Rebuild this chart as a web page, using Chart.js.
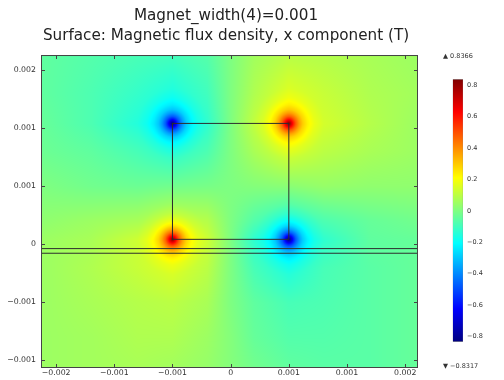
<!DOCTYPE html>
<html lang="en">
<head>
  <meta charset="UTF-8" />
  <title>Magnet_width(4)=0.001</title>
  <script src="https://cdn.jsdelivr.net/npm/chart.js@4"></script>
  <style>
    html, body { margin: 0; padding: 0; background: #fff; }
    #wrap { position: relative; width: 504px; height: 380px; overflow: hidden; }
    #field { position: absolute; left: 0; top: 0; }
    #legend { position: absolute; left: 443px; top: 0; }
  </style>
</head>
<body>
  <div id="wrap">
    <canvas id="field" width="452" height="380"></canvas>
    <canvas id="legend" width="61" height="380"></canvas>
  </div>

  <script>
    // axis extents (m)
    const xMin = -0.00163, xMax = 0.00161;
    const yMin = -0.00107, yMax = 0.00163;

    // tick positions and the labels as printed (3 decimals)
    const xTickValues = [-0.0015, -0.001, -0.0005, 0, 0.0005, 0.001, 0.0015];
    const xTickLabels = ['\u22120.002', '\u22120.001', '\u22120.001', '0', '0.001', '0.001', '0.002'];
    const yTickValues = [0.0015, 0.001, 0.0005, 0, -0.0005, -0.001];
    const yTickLabels = ['0.002', '0.001', '0.001', '0', '\u22120.001', '\u22120.001'];

    // colour range of the surface (T)
    const fieldMin = -0.8317, fieldMax = 0.8366;
    const cbTickValues = [-0.8, -0.6, -0.4, -0.2, 0, 0.2, 0.4, 0.6, 0.8];
    const cbTickLabels = ['\u22120.8', '\u22120.6', '\u22120.4', '\u22120.2', '0', '0.2', '0.4', '0.6', '0.8'];

    // Bx on a coarse grid (rows top -> bottom)
    const gridX = [-0.0016, -0.0012, -0.0008, -0.0005, -0.0002, 0, 0.0002, 0.0005, 0.0008, 0.0012, 0.0016];
    const gridY = [0.0016, 0.0013, 0.00104, 0.0008, 0.0005, 0.0002, 0.00004, -0.0002, -0.0005, -0.0008, -0.00105];
    const gridBx = [
      [-0.05, -0.07, -0.09, -0.10, -0.07, 0.00, 0.06, 0.10, 0.09, 0.07, 0.05],
      [-0.05, -0.08, -0.12, -0.16, -0.10, 0.00, 0.08, 0.16, 0.12, 0.08, 0.06],
      [-0.04, -0.08, -0.15, -0.21, -0.13, 0.00, 0.11, 0.21, 0.14, 0.09, 0.05],
      [-0.03, -0.05, -0.09, -0.14, -0.08, 0.00, 0.07, 0.15, 0.10, 0.07, 0.05],
      [ 0.00, -0.02, -0.03, -0.02, -0.01, 0.00, 0.01, 0.02, 0.04, 0.03, 0.03],
      [ 0.03,  0.05,  0.07,  0.12,  0.09, 0.00, -0.07, -0.14, -0.08, -0.04, -0.02],
      [ 0.05,  0.07,  0.13,  0.20,  0.13, 0.00, -0.13, -0.21, -0.13, -0.05, -0.04],
      [ 0.05,  0.08,  0.12,  0.16,  0.10, 0.00, -0.09, -0.16, -0.09, -0.06, -0.04],
      [ 0.05,  0.07,  0.09,  0.10,  0.07, 0.00, -0.05, -0.09, -0.08, -0.06, -0.04],
      [ 0.05,  0.06,  0.08,  0.08,  0.05, 0.01, -0.04, -0.07, -0.07, -0.06, -0.04],
      [ 0.05,  0.06,  0.07,  0.06,  0.04, 0.01, -0.02, -0.05, -0.06, -0.06, -0.04]
    ];

    // sharp peaks at the magnet corners: extra |Bx| against distance (m)
    const cornerX = [-0.0005, 0.0005, -0.0005, 0.0005];
    const cornerY = [0.00104, 0.00104, 0.00004, 0.00004];
    const cornerSign = [-1, 1, 1, -1];
    const peakR = [0, 0.00002, 0.00004, 0.00006, 0.00009, 0.00012, 0.00016, 0.00022, 0.0003];
    const peakBx = [0.63, 0.50, 0.38, 0.28, 0.18, 0.11, 0.06, 0.02, 0];

    // geometry lines: magnet outline and the two rail lines under it
    const magnetX = [-0.0005, 0.0005, 0.0005, -0.0005, -0.0005];
    const magnetY = [0.00004, 0.00004, 0.00104, 0.00104, 0.00004];
    const railY = [-0.00004, -0.00008];

    const titleLines = ['Magnet_width(4)=0.001', 'Surface: Magnetic flux density, x component (T)'];

    Chart.defaults.font.family = "'DejaVu Sans', sans-serif";

    function jet(v) {
      const t = Math.min(1, Math.max(0, (v - fieldMin) / (fieldMax - fieldMin)));
      const c = k => Math.round(255 * Math.min(1, Math.max(0, 1.5 - Math.abs(4 * t - k))));
      return [c(3), c(2), c(1)];
    }

    function locate(nodes, v) {
      const n = nodes.length;
      for (let i = 0; i < n - 1; i++) {
        const a = nodes[i], b = nodes[i + 1];
        if ((v - a) * (v - b) <= 0) return [i, (v - a) / (b - a)];
      }
      return Math.abs(v - nodes[0]) < Math.abs(v - nodes[n - 1]) ? [0, 0] : [n - 2, 1];
    }

    function peakAt(d) {
      for (let i = 0; i < peakR.length - 1; i++) {
        if (d <= peakR[i + 1]) {
          const t = (d - peakR[i]) / (peakR[i + 1] - peakR[i]);
          return peakBx[i] + t * (peakBx[i + 1] - peakBx[i]);
        }
      }
      return 0;
    }

    function bxAt(x, y) {
      const [i, tx] = locate(gridX, x);
      const [j, ty] = locate(gridY, y);
      const top = gridBx[j][i] * (1 - tx) + gridBx[j][i + 1] * tx;
      const bot = gridBx[j + 1][i] * (1 - tx) + gridBx[j + 1][i + 1] * tx;
      let v = top * (1 - ty) + bot * ty;
      for (let k = 0; k < cornerX.length; k++) {
        v += cornerSign[k] * peakAt(Math.hypot(x - cornerX[k], y - cornerY[k]));
      }
      return v;
    }

    // paints the surface into the plot area through the chart scales
    const surfacePlugin = {
      id: 'surface',
      beforeDatasetsDraw(chart) {
        const { ctx, chartArea: a, scales: { x, y } } = chart;
        const w = Math.round(a.right - a.left), h = Math.round(a.bottom - a.top);
        const off = document.createElement('canvas');
        off.width = w; off.height = h;
        const octx = off.getContext('2d');
        const img = octx.createImageData(w, h);
        for (let j = 0; j < h; j++) {
          const yv = y.getValueForPixel(a.top + j + 0.5);
          for (let i = 0; i < w; i++) {
            const xv = x.getValueForPixel(a.left + i + 0.5);
            const [r, g, b] = jet(bxAt(xv, yv));
            const p = (j * w + i) * 4;
            img.data[p] = r; img.data[p + 1] = g; img.data[p + 2] = b; img.data[p + 3] = 255;
          }
        }
        octx.putImageData(img, 0, 0);
        ctx.drawImage(off, a.left, a.top);
      }
    };

    // box round the plot and inward tick marks on all four sides
    const framePlugin = {
      id: 'frame',
      afterDatasetsDraw(chart) {
        const { ctx, chartArea: a, scales: { x, y } } = chart;
        ctx.save();
        ctx.strokeStyle = '#444';
        ctx.lineWidth = 1;
        ctx.strokeRect(a.left + 0.5, a.top + 0.5, a.right - a.left - 1, a.bottom - a.top - 1);
        ctx.beginPath();
        x.ticks.forEach(t => {
          const px = Math.round(x.getPixelForValue(t.value)) + 0.5;
          ctx.moveTo(px, a.bottom); ctx.lineTo(px, a.bottom - 4);
          ctx.moveTo(px, a.top); ctx.lineTo(px, a.top + 4);
        });
        y.ticks.forEach(t => {
          const py = Math.round(y.getPixelForValue(t.value)) + 0.5;
          ctx.moveTo(a.left, py); ctx.lineTo(a.left + 4, py);
          ctx.moveTo(a.right, py); ctx.lineTo(a.right - 4, py);
        });
        ctx.stroke();
        ctx.restore();
      }
    };

    const lineStyle = { showLine: true, borderColor: '#2e2e2e', borderWidth: 1, pointRadius: 0, fill: false, xAxisID: 'x', yAxisID: 'y' };

    new Chart(document.getElementById('field'), {
      type: 'scatter',
      data: {
        datasets: [
          { ...lineStyle, data: magnetX.map((x, i) => ({ x, y: magnetY[i] })) },
          ...railY.map(y => ({ ...lineStyle, data: [{ x: xMin, y }, { x: xMax, y }] }))
        ]
      },
      options: {
        responsive: false,
        animation: false,
        events: [],
        plugins: {
          legend: { display: false },
          tooltip: { enabled: false },
          title: {
            display: true,
            text: titleLines,
            color: '#222',
            font: { size: 15.2, weight: 'normal', lineHeight: 1.3 },
            padding: { top: 6, bottom: 9.5 }
          }
        },
        scales: {
          x: {
            type: 'linear', position: 'bottom', min: xMin, max: xMax,
            grid: { display: false, drawTicks: false }, border: { display: false },
            afterBuildTicks: s => { s.ticks = xTickValues.map(value => ({ value })); },
            afterFit: s => { s.height = 12; },
            ticks: { callback: (v, i) => xTickLabels[i], font: { size: 7.8 }, color: '#333', padding: 0, maxRotation: 0, autoSkip: false }
          },
          y: {
            type: 'linear', position: 'left', min: yMin, max: yMax,
            grid: { display: false, drawTicks: false }, border: { display: false },
            afterBuildTicks: s => { s.ticks = yTickValues.map(value => ({ value })); },
            afterFit: s => { s.width = 41; },
            ticks: { callback: (v, i) => yTickLabels[i], font: { size: 7.8 }, color: '#333', padding: 5, autoSkip: false }
          },
          yRight: {
            type: 'linear', position: 'right', display: true,
            grid: { display: false, drawTicks: false }, border: { display: false },
            ticks: { display: false },
            afterFit: s => { s.width = 34; }
          }
        }
      },
      plugins: [surfacePlugin, framePlugin]
    });

    // colour legend
    new Chart(document.getElementById('legend'), {
      type: 'bar',
      data: {
        labels: [''],
        datasets: [{
          data: [[fieldMin, fieldMax]],
          yAxisID: 'y',
          barPercentage: 1,
          categoryPercentage: 1,
          borderWidth: 0.5,
          borderColor: '#777',
          borderSkipped: false,
          backgroundColor: c => {
            const chart = c.chart;
            if (!chart.chartArea) return '#888';
            const ys = chart.scales.y;
            const g = chart.ctx.createLinearGradient(0, ys.getPixelForValue(fieldMin), 0, ys.getPixelForValue(fieldMax));
            [0, 0.125, 0.375, 0.5, 0.625, 0.875, 1].forEach(t => {
              const [r, gg, b] = jet(fieldMin + t * (fieldMax - fieldMin));
              g.addColorStop(t, `rgb(${r},${gg},${b})`);
            });
            return g;
          }
        }]
      },
      options: {
        responsive: false,
        animation: false,
        events: [],
        plugins: {
          legend: { display: false },
          tooltip: { enabled: false },
          title: {
            display: true, text: '\u25B2 0.8366', align: 'start', color: '#333',
            font: { size: 6.5, weight: 'normal', lineHeight: 1.2 },
            padding: { top: 52, bottom: 19.5 }
          },
          subtitle: {
            display: true, position: 'bottom', text: '\u25BC \u22120.8317', align: 'start', color: '#333',
            font: { size: 6.5, weight: 'normal', lineHeight: 1.2 },
            padding: { top: 20.5, bottom: 10 }
          }
        },
        scales: {
          x: { display: false },
          yLeft: {
            type: 'linear', position: 'left', display: true,
            grid: { display: false, drawTicks: false }, border: { display: false },
            ticks: { display: false },
            afterFit: s => { s.width = 9.7; }
          },
          y: {
            type: 'linear', position: 'right', min: fieldMin, max: fieldMax,
            grid: { display: false, drawTicks: false }, border: { display: false },
            afterBuildTicks: s => { s.ticks = cbTickValues.map(value => ({ value })); },
            afterFit: s => { s.width = 41; },
            ticks: { callback: (v, i) => cbTickLabels[i], font: { size: 6.5 }, color: '#333', padding: 4, autoSkip: false }
          }
        }
      }
    });
  </script>
</body>
</html>
